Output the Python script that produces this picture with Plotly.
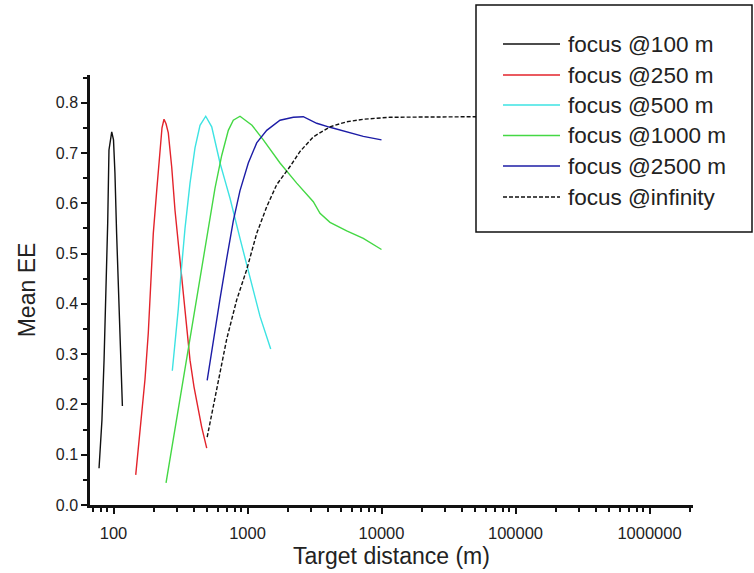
import plotly.graph_objects as go

# ---------------- data ----------------
f100_x = [78, 82, 85, 88, 90.5, 92.5, 97, 100, 102.5, 105.5, 110, 113.5, 116.5]
f100_y = [0.073, 0.169, 0.288, 0.433, 0.56, 0.706, 0.742, 0.726, 0.66, 0.54, 0.408, 0.302, 0.197]

f250_x = [146.5, 157.7, 166.9, 171.8, 181.8, 188.8, 198.1, 210.1, 222.3, 230.1, 238.2, 246.6,
          256.4, 271.9, 287.7, 304.5, 319.0, 341.7, 372.4, 398.8, 429.6, 455.1, 496.2]
f250_y = [0.06, 0.143, 0.209, 0.25, 0.342, 0.43, 0.54, 0.625, 0.715, 0.75, 0.767, 0.758,
          0.74, 0.672, 0.586, 0.52, 0.46, 0.374, 0.288, 0.235, 0.189, 0.155, 0.113]

f500_x = [274.7, 287.7, 304.5, 319.0, 341.7, 372.4, 405.7, 442.2, 487.7, 540.7, 588.9,
          623.5, 679.4, 740.3, 879.0, 1044, 1240, 1490]
f500_y = [0.267, 0.32, 0.39, 0.46, 0.55, 0.64, 0.71, 0.755, 0.773, 0.752, 0.706,
          0.68, 0.645, 0.61, 0.53, 0.45, 0.375, 0.31]

f1000_x = [246.6, 279.4, 313.6, 351.8, 405.7, 455.1, 510.0, 572.2, 642.0, 719.2, 783.4, 879.0,
           1080, 1312, 1748, 2329, 3098, 3475, 4127, 5500, 7315, 10000]
f1000_y = [0.044, 0.13, 0.21, 0.29, 0.39, 0.47, 0.55, 0.63, 0.695, 0.745, 0.765, 0.773,
           0.755, 0.726, 0.68, 0.64, 0.603, 0.58, 0.562, 0.545, 0.53, 0.508]

f2500_x = [500, 555.7, 623.5, 699.6, 783.4, 879.0, 1014, 1171, 1391, 1748, 2197, 2609,
           2927, 3284, 4127, 5500, 7315, 10000]
f2500_y = [0.248, 0.33, 0.41, 0.49, 0.565, 0.625, 0.68, 0.72, 0.745, 0.765, 0.771, 0.772,
           0.765, 0.759, 0.751, 0.742, 0.733, 0.726]

finf_x = [500, 588.9, 699.6, 830.9, 986.3, 1171, 1391, 1652, 2076, 2466, 3098, 4127,
          5500, 7315, 11570, 48190, 200000, 1000000]
finf_y = [0.135, 0.229, 0.33, 0.408, 0.468, 0.54, 0.593, 0.637, 0.673, 0.703, 0.732, 0.752,
          0.762, 0.767, 0.771, 0.772, 0.772, 0.772]

series_names = ["focus @100 m", "focus @250 m", "focus @500 m",
                "focus @1000 m", "focus @2500 m", "focus @infinity"]
series_x = [f100_x, f250_x, f500_x, f1000_x, f2500_x, finf_x]
series_y = [f100_y, f250_y, f500_y, f1000_y, f2500_y, finf_y]
series_colors = ["#111111", "#e3232b", "#3de3e3", "#44d844", "#1c1ca6", "#111111"]
series_dash = ["solid", "solid", "solid", "solid", "solid", "4px,2px"]

x_major = [100, 1000, 10000, 100000, 1000000]
x_major_text = ["100", "1000", "10000", "100000", "1000000"]
x_minor = [70, 80, 90] + [m * d for d in (100, 1000, 10000, 100000) for m in range(2, 10)] + [2000000]

y_major = [0.0, 0.1, 0.2, 0.3, 0.4, 0.5, 0.6, 0.7, 0.8]

# ---------------- figure ----------------
W, H = 754, 573
ML, MR, MT, MB = 90, 61, 75, 68
PW, PH = W - ML - MR, H - MT - MB

FONT = "Liberation Sans, Arial, sans-serif"

fig = go.Figure()
for name, xs, ys, col, dsh in zip(series_names, series_x, series_y, series_colors, series_dash):
    fig.add_trace(go.Scatter(x=xs, y=ys, mode="lines", name=name,
                             line=dict(color=col, width=1.4, dash=dsh),
                             showlegend=False))

fig.update_layout(
    width=W, height=H,
    margin=dict(l=ML, r=MR, t=MT, b=MB, pad=0),
    paper_bgcolor="white", plot_bgcolor="white",
    font=dict(family=FONT, color="#111111"),
    showlegend=False,
)

fig.update_xaxes(
    type="log", range=[1.8246, 6.3246],
    showgrid=False, zeroline=False,
    showline=True, linecolor="#111111", linewidth=2.5,
    ticks="outside", ticklen=6, tickwidth=2, tickcolor="#111111",
    tickmode="array", tickvals=x_major, ticktext=x_major_text,
    tickfont=dict(size=16.5, family=FONT, color="#222222"),
    ticklabelstandoff=5,
    minor=dict(ticks="outside", ticklen=4, tickwidth=2, tickcolor="#111111",
               tickmode="array", tickvals=x_minor, showgrid=False),
    title=dict(text="Target distance (m)", font=dict(size=23, family=FONT, color="#222222"),
               standoff=8),
    automargin=False,
)
fig.update_yaxes(
    range=[0, 0.855],
    showgrid=False, zeroline=False,
    showline=True, linecolor="#111111", linewidth=2.5,
    ticks="outside", ticklen=6, tickwidth=2, tickcolor="#111111",
    tickmode="array", tickvals=y_major, ticktext=[f"{v:.1f}" for v in y_major],
    tickfont=dict(size=16, family=FONT, color="#222222"),
    minor=dict(ticks="outside", ticklen=4, tickwidth=2, tickcolor="#111111",
               dtick=0.05, tick0=0.05, showgrid=False),
    title=dict(text="Mean EE", font=dict(size=23, family=FONT, color="#222222"),
               standoff=14),
    automargin=False,
)

# ---------------- legend box (drawn in pixel layout positions) ----------------
def px_x(p):
    return (p - ML) / PW

def px_y(p):
    return (H - MB - p) / PH

shapes = [dict(type="rect", xref="paper", yref="paper",
               x0=px_x(476), x1=px_x(752), y0=px_y(232), y1=px_y(5),
               line=dict(color="#111111", width=1.5), fillcolor="white", layer="above")]
annotations = []
row_y = [44, 75, 105, 135.5, 166, 197]
for name, col, dsh, ry in zip(series_names, series_colors, series_dash, row_y):
    shapes.append(dict(type="line", xref="paper", yref="paper",
                       x0=px_x(503), x1=px_x(560), y0=px_y(ry), y1=px_y(ry),
                       line=dict(color=col, width=1.4, dash=dsh),
                       layer="above"))
    annotations.append(dict(xref="paper", yref="paper", x=px_x(566), y=px_y(ry),
                            text=name, showarrow=False, xanchor="left", yanchor="middle",
                            font=dict(size=22.5, family=FONT, color="#222222")))
fig.update_layout(shapes=shapes, annotations=annotations)

fig.write_html("out.html",
               config={"displayModeBar": False},
               post_script="document.body.style.margin='0';document.body.style.overflow='hidden';")
